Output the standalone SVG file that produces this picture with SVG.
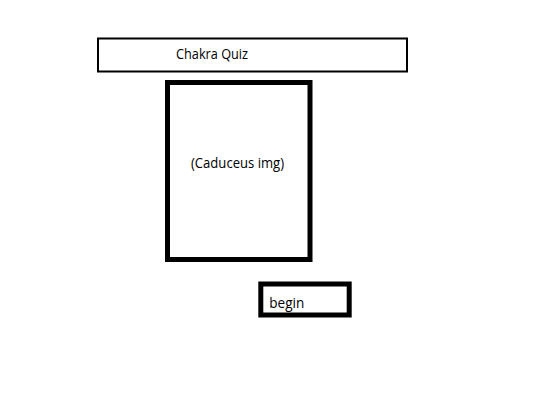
<svg xmlns="http://www.w3.org/2000/svg" width="533" height="400" viewBox="0 0 533 400">
<style>
.box{fill:#fff;stroke:#000}
.t{font-family:"Open Sans","Liberation Sans",sans-serif;font-size:14px;fill:#000}
</style>
<rect width="533" height="400" fill="#fff"/>
<g id="title">
<rect class="box" x="98" y="38.5" width="309" height="33" stroke-width="2"/>
<text class="t" x="176" y="58.5" textLength="72" lengthAdjust="spacingAndGlyphs">Chakra Quiz</text>
</g>
<g id="image">
<rect class="box" x="167.5" y="82.5" width="142.5" height="177" stroke-width="5"/>
<text class="t" x="191" y="168" textLength="93" lengthAdjust="spacingAndGlyphs">(Caduceus img)</text>
</g>
<g id="begin">
<rect class="box" x="260.8" y="284" width="88.4" height="31" stroke-width="5"/>
<text class="t" x="269.3" y="307.5" textLength="35" lengthAdjust="spacingAndGlyphs">begin</text>
</g>
<g id="connectors"/>
</svg>
